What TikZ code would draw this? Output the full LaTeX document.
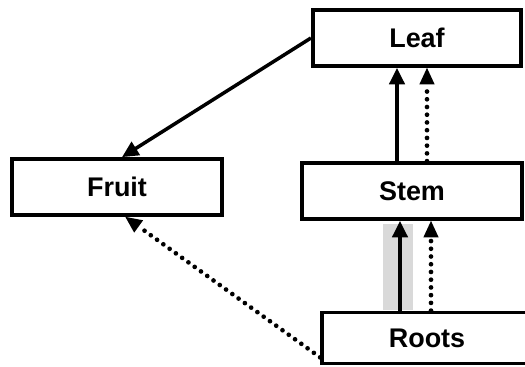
\documentclass[tikz,border=0pt]{standalone}
\usepackage{fontspec}
\setmainfont{Liberation Sans}
\usetikzlibrary{arrows.meta}

\tikzset{
  part/.style={draw, line width=3.2pt, minimum height=1.68cm, inner sep=0pt,
    font=\fontsize{23}{27}\selectfont\bfseries},
  solidarrow/.style={line width=3pt, -{Triangle[length=14pt,width=13pt]}},
  dotarrow/.style={line width=4pt, line cap=round, dash pattern=on 0pt off 6.6pt,
    -{Triangle[length=14pt,width=13pt,line width=0pt]}}
}

\begin{document}
\begin{tikzpicture}[x=0.03cm,y=-0.03cm]

\useasboundingbox (0,0) rectangle (525,367);

\node [part, minimum width=6.25cm](leaf) at (417,38) {Leaf};
\node [part, minimum width=6.3cm](fruit) at (117,187) {Fruit};
\node [part, minimum width=6.6cm](stem) at (412,191) {Stem};
\node [part, minimum width=6.3cm, minimum height=1.53cm](roots) at (427,338) {Roots};

% shaded band behind the roots-stem arrow
\fill [gray!30] (383,224) rectangle (413,310);

\draw [solidarrow] (leaf.west) -- ([xshift=0.15cm]fruit.north);
\draw [dotarrow] ([yshift=0.24cm]roots.south west) -- ([xshift=0.25cm]fruit.south);

\draw [solidarrow] ([xshift=-0.45cm]stem.north) -- ([xshift=-0.45cm]stem.north |- leaf.south);
\draw [dotarrow] ([xshift=0.45cm]stem.north) -- ([xshift=0.45cm]stem.north |- leaf.south);

\draw [solidarrow] ([xshift=-0.36cm]stem.south |- roots.north) -- ([xshift=-0.36cm]stem.south);
\draw [dotarrow] ([xshift=0.57cm]stem.south |- roots.north) -- ([xshift=0.57cm]stem.south);
\end{tikzpicture}
\end{document}
